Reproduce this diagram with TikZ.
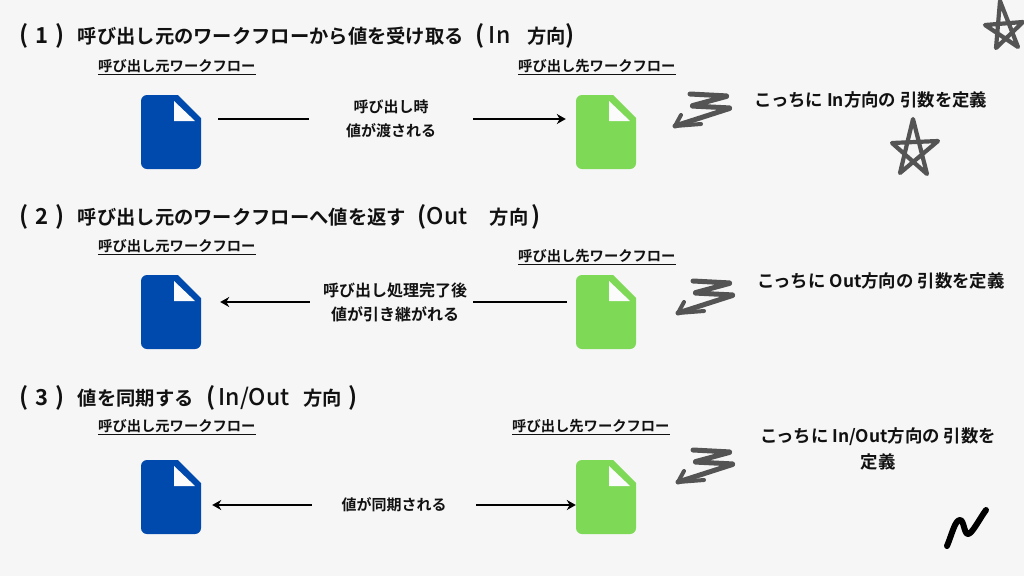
\documentclass[tikz,border=0pt]{standalone}
\usepackage{fontspec}
\setmainfont{Noto Sans CJK JP Bold}
\newfontfamily\latf{Noto Sans CJK JP Medium}
\usetikzlibrary{arrows.meta}
\definecolor{bgc}{HTML}{F6F6F6}
\definecolor{inkc}{HTML}{111111}
\definecolor{docblue}{HTML}{004AAD}
\definecolor{docgreen}{HTML}{7ED957}
\definecolor{sketchc}{HTML}{545454}
\tikzset{
  heading/.style={anchor=west,inner sep=0pt,text=inkc,font=\fontsize{19.3}{19.3}\selectfont},
  wflabel/.style={anchor=west,inner sep=0pt,text=inkc,font=\fontsize{14.3}{14.3}\selectfont},
  midlabel/.style={inner sep=0pt,align=center,text=inkc,font=\fontsize{15}{24}\selectfont,minimum height=44pt},
  note/.style={inner sep=0pt,align=center,text=inkc,font=\fontsize{17.4}{26}\selectfont},
  docbox/.style={inner sep=0pt,minimum width=60pt,minimum height=74pt},
  plainline/.style={draw=black,line width=2.4pt},
  arrowline/.style={draw=black,line width=2.4pt,-{Stealth[length=9pt,width=10pt]}},
  sketch/.style={draw=sketchc,line width=4.2pt,line cap=round,line join=round},
}
\newcommand{\hs}[1]{\hspace{#1pt}}
\newcommand{\lat}[1]{{\latf\fontsize{23}{19}\selectfont #1}}
\newcommand{\pn}[1]{{\fontsize{24}{19}\selectfont #1}}
\newcommand{\num}[1]{{\fontsize{22}{19}\selectfont #1}}
\newcommand{\docicon}[4]{%
  \node[docbox] (#1) at (#2,#3) {};
  \begin{scope}[shift={(#2-30,#3-37)}]
    \fill[#4] (6,0) -- (37,0) -- (60,23) -- (60,68) arc[start angle=0,end angle=90,radius=6]
      -- (6,74) arc[start angle=90,end angle=180,radius=6] -- (0,6) arc[start angle=180,end angle=270,radius=6] -- cycle;
    \fill[white!60!bgc] (33,6) -- (54,26) -- (33,26) -- cycle;
  \end{scope}}
\newcommand{\squiggle}[2]{%
  \begin{scope}[shift={(#1,#2)}]
    \draw[sketch,line width=5pt,rounded corners=1.5pt] (690,94) -- (728,96) -- (691,106) -- (731,108) -- (675,126);
    \draw[sketch,line width=4pt] (681,115) -- (675,126) -- (701,124);
  \end{scope}}
\begin{document}
\begin{tikzpicture}[x=1pt,y=-1pt]
\useasboundingbox (0,0) rectangle (1024,576);
\fill[bgc] (0,0) rectangle (1024,576);

\node[heading] (h1) at (19,36) {\pn{(}\hs{7}\num{1}\hs{7}\pn{)}\hs{13.5}呼び出し元のワークフローから値を受け取る\hs{12}\pn{(}\hs{4}\lat{In}\hs{17}方向\hs{0}\pn{)}};
\node[heading] (h2) at (19,217) {\pn{(}\hs{7}\num{2}\hs{7}\pn{)}\hs{13.5}呼び出し元のワークフローへ値を返す\hs{12}\pn{(}\lat{Out}\hs{22}方向\hs{3}\pn{)}};
\node[heading] (h3) at (19,398) {\pn{(}\hs{7}\num{3}\hs{7}\pn{)}\hs{13.5}値を同期する\hs{13}\pn{(}\hs{3}\lat{In/Out}\hs{14}方向\hs{6}\pn{)}};

\node[wflabel] (s1) at (98,67) {\underline{呼び出し元ワークフロー}};
\node[wflabel] (t1) at (518,67) {\underline{呼び出し先ワークフロー}};
\node[wflabel] (s2) at (98,247) {\underline{呼び出し元ワークフロー}};
\node[wflabel] (t2) at (518,257) {\underline{呼び出し先ワークフロー}};
\node[wflabel] (s3) at (98,427) {\underline{呼び出し元ワークフロー}};
\node[wflabel] (t3) at (512,427) {\underline{呼び出し先ワークフロー}};

\docicon{a1}{171}{132}{docblue}
\docicon{b1}{606}{132}{docgreen}
\docicon{a2}{171}{312}{docblue}
\docicon{b2}{606}{312}{docgreen}
\docicon{a3}{171}{497}{docblue}
\docicon{b3}{606}{497}{docgreen}

\node[midlabel,minimum width=164pt] (m1) at (391,119) {呼び出し時\\値が渡される};
\node[midlabel,minimum width=170pt,font=\fontsize{16}{24}\selectfont] (m2) at (395,302) {呼び出し処理完了後\\値が引き継がれる};
\node[midlabel,minimum width=164pt] (m3) at (394,505) {値が同期される};

\draw[plainline,shorten <=17pt] (a1.east |- m1.west) -- (m1.west);
\draw[arrowline,shorten >=10pt] (m1.east) -- (b1.west |- m1.east);
\draw[arrowline,shorten >=19pt] (m2.west) -- (a2.east |- m2.west);
\draw[plainline,shorten <=-7pt,shorten >=9pt] (m2.east) -- (b2.west |- m2.east);
\draw[arrowline,shorten >=11pt] (m3.west) -- (a3.east |- m3.west);
\draw[arrowline] (m3.east) -- (b3.west |- m3.east);

\node[note] (n1) at (871,100) {こっちに In方向の 引数を定義};
\node[note] (n2) at (881,281) {こっちに Out方向の 引数を定義};
\node[note] (n3) at (878,449) {こっちに In/Out方向の 引数を\\定義};

\squiggle{0}{0}
\squiggle{3}{187}
\squiggle{3}{356}

\draw[sketch] (900,173) -- (913,119) -- (927,174) -- (892,143) -- (938,141) -- cycle;
\draw[sketch] (996,48) -- (1000,1) -- (1018,47) -- (985,25) -- (1023,22) -- cycle;
\draw[draw=black,line width=6pt,line cap=round,line join=round]
  (947,546) .. controls (952,534) and (955,520) .. (960,520) .. controls (964,520) and (964,534) .. (968,534) .. controls (972,534) and (980,518) .. (986,510);
\end{tikzpicture}
\end{document}
